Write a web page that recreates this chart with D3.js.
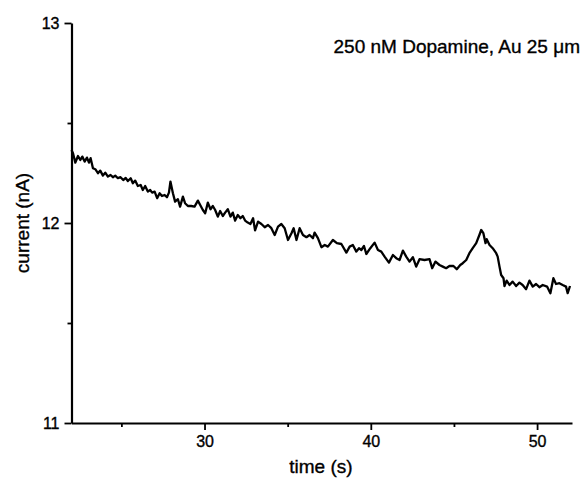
<!DOCTYPE html>
<html>
<head>
<meta charset="utf-8">
<script src="https://cdn.jsdelivr.net/npm/d3@7"></script>
<style>
  body { margin: 0; background: #fff; }
  svg text { font-family: "Liberation Sans", Arial, sans-serif; fill: #000; stroke: #000; stroke-width: 0.35px; }
</style>
</head>
<body>
<div id="chart"></div>
<script>
// Time (s) and current (nA)
const times = [
  22.00, 22.09, 22.23, 22.39, 22.53, 22.65, 22.79, 22.93, 23.05, 23.15,
  23.29, 23.43, 23.59, 23.73, 23.89, 24.03, 24.19, 24.35, 24.49, 24.63,
  24.79, 24.95, 25.11, 25.26, 25.39, 25.56, 25.69, 25.83, 25.99, 26.16,
  26.29, 26.43, 26.59, 26.73, 26.85, 27.00, 27.15, 27.30, 27.44, 27.60,
  27.74, 27.86, 27.95, 28.10, 28.23, 28.40, 28.53, 28.70, 28.83, 29.00,
  29.20, 29.40, 29.60, 29.74, 29.90, 30.04, 30.20, 30.36, 30.50, 30.64,
  30.80, 30.94, 31.10, 31.24, 31.40, 31.56, 31.70, 31.84, 32.00, 32.16,
  32.30, 32.44, 32.60, 32.76, 32.92, 33.04, 33.22, 33.42, 33.62, 33.82,
  34.02, 34.22, 34.42, 34.62, 34.82, 35.02, 35.23, 35.36, 35.53, 35.72,
  35.92, 36.13, 36.32, 36.52, 36.62, 36.82, 37.03, 37.23, 37.42, 37.72,
  37.96, 38.23, 38.53, 38.73, 38.92, 39.13, 39.29, 39.43, 39.59, 39.73,
  39.97, 40.23, 40.43, 40.63, 40.83, 41.09, 41.33, 41.53, 41.73, 41.93,
  42.13, 42.33, 42.53, 42.73, 42.93, 43.23, 43.53, 43.69, 43.89, 44.13,
  44.33, 44.53, 44.73, 44.97, 45.17, 45.38, 45.53, 45.74, 45.93, 46.13,
  46.34, 46.53, 46.64, 46.77, 46.90, 46.97, 47.14, 47.33, 47.54, 47.63,
  47.74, 47.84, 47.98, 48.04, 48.17, 48.34, 48.53, 48.74, 48.94, 49.13,
  49.34, 49.54, 49.74, 49.94, 50.14, 50.34, 50.60, 50.80, 50.98, 51.14,
  51.34, 51.54, 51.74, 51.84, 51.98
];
const currents = [
  12.365, 12.349, 12.302, 12.335, 12.315, 12.332, 12.307, 12.327, 12.302, 12.324,
  12.274, 12.269, 12.249, 12.262, 12.237, 12.252, 12.232, 12.240, 12.229, 12.237,
  12.224, 12.229, 12.215, 12.225, 12.210, 12.224, 12.199, 12.212, 12.185, 12.190,
  12.165, 12.185, 12.157, 12.165, 12.152, 12.157, 12.124, 12.149, 12.135, 12.140,
  12.129, 12.152, 12.207, 12.149, 12.107, 12.119, 12.082, 12.132, 12.099, 12.085,
  12.085, 12.082, 12.112, 12.090, 12.065, 12.049, 12.102, 12.069, 12.085, 12.065,
  12.032, 12.060, 12.035, 12.052, 12.069, 12.032, 12.052, 12.012, 12.040, 12.024,
  12.035, 12.012, 12.002, 11.995, 12.024, 11.963, 12.007, 11.995, 11.979, 11.990,
  11.974, 11.940, 11.982, 11.995, 11.974, 11.915, 11.949, 11.974, 11.915, 11.974,
  11.940, 11.929, 11.940, 11.924, 11.952, 11.924, 11.879, 11.890, 11.882, 11.915,
  11.899, 11.895, 11.852, 11.882, 11.890, 11.857, 11.874, 11.865, 11.885, 11.845,
  11.874, 11.902, 11.865, 11.857, 11.832, 11.802, 11.840, 11.824, 11.815, 11.862,
  11.832, 11.807, 11.829, 11.782, 11.819, 11.815, 11.819, 11.774, 11.807, 11.790,
  11.782, 11.774, 11.785, 11.785, 11.769, 11.790, 11.799, 11.815, 11.849, 11.874,
  11.899, 11.940, 11.965, 11.949, 11.899, 11.919, 11.890, 11.874, 11.849, 11.832,
  11.782, 11.740, 11.724, 11.685, 11.712, 11.690, 11.707, 11.685, 11.702, 11.690,
  11.669, 11.712, 11.682, 11.695, 11.679, 11.690, 11.682, 11.649, 11.724, 11.695,
  11.699, 11.690, 11.682, 11.649, 11.685
];
const xMajorTicks = [30, 40, 50];
const xMinorTicks = [25, 35, 45];
const yMajorTicks = [11, 12, 13];
const yMinorTicks = [11.5, 12.5];
const annotation = "250 nM Dopamine, Au 25 \u03bcm";

const data = times.map((t, i) => ({ t: t, v: currents[i] }));

const W = 586, H = 488;
const margin = { top: 23, right: 14, bottom: 65, left: 71.5 };
const width = W - margin.left - margin.right;
const height = H - margin.top - margin.bottom;

const svg = d3.select("#chart").append("svg")
    .attr("width", W)
    .attr("height", H);

const g = svg.append("g")
    .attr("transform", `translate(${margin.left},${margin.top})`);

const x = d3.scaleLinear().domain([22, 52.1]).range([0, width]);
const y = d3.scaleLinear().domain([11, 13]).range([height, 0]);

// x axis, major ticks with labels then short minor ticks
g.append("g")
    .attr("transform", `translate(0,${height})`)
    .call(d3.axisBottom(x).tickValues(xMajorTicks).tickFormat(d3.format("d"))
        .tickSize(7).tickPadding(6).tickSizeOuter(0));
g.append("g")
    .attr("transform", `translate(0,${height})`)
    .call(d3.axisBottom(x).tickValues(xMinorTicks).tickSize(4).tickFormat("").tickSizeOuter(0))
    .select(".domain").remove();

// y axis
g.append("g")
    .call(d3.axisLeft(y).tickValues(yMajorTicks).tickFormat(d3.format("d"))
        .tickSize(7).tickPadding(5).tickSizeOuter(0));
g.append("g")
    .call(d3.axisLeft(y).tickValues(yMinorTicks).tickSize(4).tickFormat("").tickSizeOuter(0))
    .select(".domain").remove();

g.selectAll(".domain").attr("stroke", "#000").attr("stroke-width", 2.2);
g.selectAll(".tick line").attr("stroke", "#000").attr("stroke-width", 1.8);
g.selectAll(".tick text").style("font-size", "16px").attr("fill", "#000");

// trace
g.append("path")
    .datum(data)
    .attr("fill", "none")
    .attr("stroke", "#000")
    .attr("stroke-width", 2.3)
    .attr("stroke-linejoin", "round")
    .attr("d", d3.line()
        .x(d => x(d.t))
        .y(d => y(d.v)));

// axis titles
svg.append("text")
    .attr("x", margin.left + x(37))
    .attr("y", 473)
    .attr("text-anchor", "middle")
    .style("font-size", "19px")
    .text("time (s)");

svg.append("text")
    .attr("transform", `translate(29,${margin.top + y(12)}) rotate(-90)`)
    .attr("text-anchor", "middle")
    .style("font-size", "19px")
    .text("current (nA)");

svg.append("text")
    .attr("x", 580)
    .attr("y", 53)
    .attr("text-anchor", "end")
    .style("font-size", "19px")
    .text(annotation);
</script>
</body>
</html>
